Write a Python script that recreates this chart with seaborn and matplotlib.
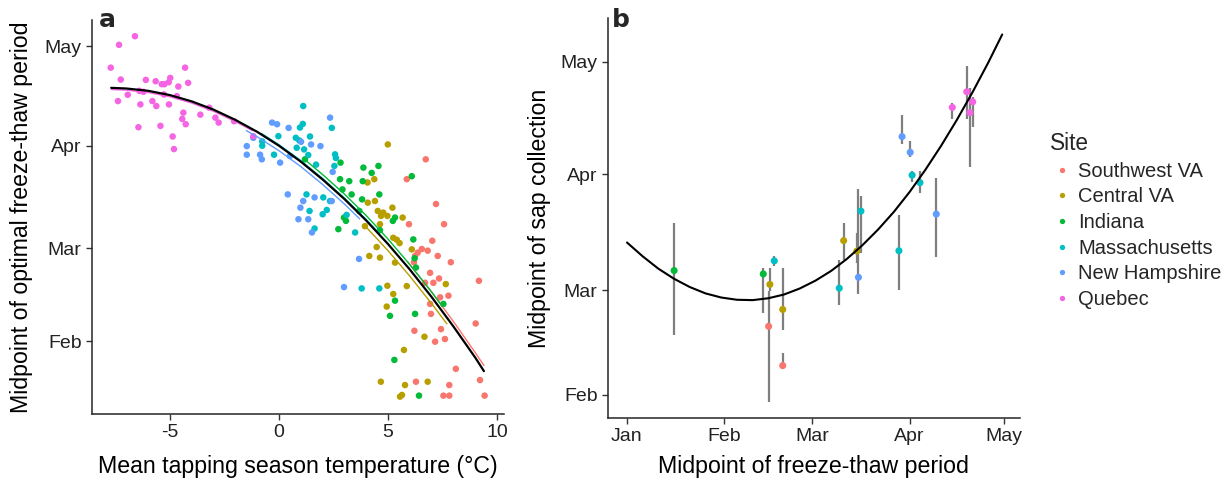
import matplotlib
matplotlib.use("Agg")
import matplotlib.pyplot as plt
import seaborn as sns
import pandas as pd

# ---------------- data ----------------
sites = ["Southwest VA", "Central VA", "Indiana", "Massachusetts", "New Hampshire", "Quebec"]
site_colors = ["#F8766D", "#B79F00", "#00BA38", "#00BFC4", "#619CFF", "#F564E3"]

# Panel a: mean tapping-season temperature (deg C) vs day of year of optimal freeze-thaw midpoint
temp_swva = [6.73, 5.86, 7.20, 7.57, 5.96, 7.03, 6.55, 6.82, 6.36, 7.28, 7.88, 6.93, 6.19, 7.34, 7.08, 6.70,
             9.17, 7.77, 7.39, 6.93, 6.97, 9.02, 6.21, 7.43, 7.61, 7.16, 8.11, 9.22, 6.28, 7.81, 7.54, 7.81,
             9.43, 6.24]
doy_swva = [86.9, 80.9, 73.4, 67.3, 67.3, 62.3, 59.8, 59.3, 58.7, 57.7, 55.8, 52.6, 55.8, 50.9, 49.6, 49.6,
            50.2, 45.7, 45.2, 43.2, 40.2, 37.3, 35.1, 35.6, 32.6, 31.8, 23.6, 20.2, 19.7, 18.7, 15.5, 15.5,
            15.5, 57.7]
temp_cva = [4.99, 4.37, 4.06, 4.40, 4.07, 4.53, 4.78, 4.97, 4.68, 5.20, 5.67, 4.63, 3.94, 5.24, 5.40, 5.53,
            4.48, 4.14, 4.63, 5.32, 5.86, 4.97, 5.24, 7.65, 4.94, 6.67, 5.73, 4.67, 5.78, 5.55, 5.64, 6.82, 6.09]
doy_cva = [91.4, 80.9, 79.9, 74.3, 73.8, 71.3, 70.8, 69.8, 69.8, 72.3, 69.3, 67.3, 66.7, 63.2, 62.6, 61.6,
           60.4, 57.7, 57.2, 55.7, 48.6, 48.7, 46.2, 49.2, 42.4, 33.3, 29.3, 19.7, 18.7, 15.2, 15.7, 19.7, 59.7]
temp_ind = [1.19, 2.82, 3.87, 4.56, 4.25, 2.80, 3.22, 3.84, 2.91, 3.33, 4.60, 3.81, 3.68, 2.98, 3.07, 2.72,
            4.63, 5.22, 5.32, 6.09, 6.16, 6.22, 6.28, 7.54, 5.32, 5.09, 6.24, 5.29, 6.42]
doy_ind = [86.9, 85.9, 84.4, 84.9, 82.8, 80.9, 80.3, 80.3, 77.8, 76.3, 76.3, 74.8, 71.3, 69.3, 68.3, 65.8,
           65.5, 68.3, 69.3, 81.8, 62.7, 57.0, 54.2, 43.2, 44.2, 39.6, 40.2, 26.3, 15.5]
temp_mass = [1.11, 2.42, 0.96, 1.09, -0.03, 0.77, 0.93, 1.42, -0.77, -0.77, -0.23, 0.81, 1.15, 1.34, 2.57,
             2.61, 1.70, 2.54, 1.26, 1.40, 2.00, 2.19, 2.34, 1.63, 3.49, 3.10, 3.79, 4.60, 2.03]
doy_mass = [103.0, 96.4, 96.5, 97.6, 93.9, 93.4, 92.6, 93.8, 92.3, 91.0, 88.3, 90.4, 89.9, 88.2, 88.4,
            87.3, 85.3, 84.9, 76.3, 71.3, 70.3, 71.6, 74.3, 66.0, 64.8, 70.1, 47.9, 47.9, 75.4]
temp_nh = [-1.48, -1.48, -0.87, -0.79, -1.18, -0.32, -0.09, 0.44, 2.34, 0.05, 1.01, 1.47, 1.90, 0.50, 0.40,
           1.11, 0.98, 0.89, 1.34, 1.63, 1.51, 2.46, 2.42, 3.67, 2.98]
doy_nh = [90.9, 88.3, 88.3, 86.9, 93.4, 98.0, 97.5, 96.4, 99.5, 85.9, 92.2, 91.4, 90.9, 87.9, 76.3,
          74.3, 72.3, 68.8, 68.8, 75.4, 64.8, 83.1, 74.3, 56.8, 48.3]
temp_que = [-7.72, -7.34, -6.61, -7.26, -7.39, -6.94, -6.41, -6.36, -6.11, -6.22, -6.45, -5.81, -5.63, -5.66,
            -5.38, -5.26, -5.06, -4.99, -5.05, -5.44, -5.28, -4.88, -4.82, -4.62, -4.31, -4.17, -4.69, -4.39,
            -4.44, -4.28, -3.61, -3.20, -2.92, -2.77, -2.06, -1.18]
doy_que = [114.6, 121.5, 124.1, 111.0, 104.5, 106.4, 107.6, 103.5, 110.9, 107.3, 96.6, 104.5, 103.0, 110.5,
           109.6, 109.6, 110.2, 111.5, 103.5, 97.0, 106.5, 93.8, 90.0, 108.9, 114.6, 110.0, 106.0, 101.0,
           99.1, 97.5, 100.4, 102.5, 99.5, 98.0, 98.4, 93.9]

# fitted curves (overall = black, one per site)
fit_all_t = [-7.7, -7, -6, -5, -4, -3, -2, -1, 0, 1, 2, 3, 4, 5, 6, 7, 8, 9, 9.4]
fit_all_doy = [108.5, 108.3, 107.6, 106.3, 104.4, 101.9, 98.8, 95.2, 91.0, 86.2, 80.8, 74.9, 68.4, 61.3,
               53.6, 45.3, 36.4, 27.0, 22.9]
fit_site_t = {
    "Quebec": [-7.7, -7, -6, -5, -4, -3, -2, -1.2],
    "New Hampshire": [-1.5, -1, 0, 1, 2, 3, 3.7],
    "Massachusetts": [-0.8, 0, 1, 2, 3, 4, 4.6],
    "Indiana": [1.2, 2, 3, 4, 5, 6, 7, 7.5],
    "Central VA": [3.9, 4, 5, 6, 7, 7.7],
    "Southwest VA": [5.9, 6, 7, 8, 9, 9.4],
}
fit_site_doy = {
    "Quebec": [108.0, 107.8, 107.1, 105.8, 103.9, 101.4, 98.3, 95.5],
    "New Hampshire": [95.6, 93.7, 89.5, 84.7, 79.3, 73.4, 68.9],
    "Massachusetts": [94.7, 91.3, 86.5, 81.1, 75.2, 68.7, 64.5],
    "Indiana": [86.7, 82.3, 76.4, 69.9, 62.8, 55.1, 46.8, 42.4],
    "Central VA": [67.0, 66.4, 59.3, 51.6, 43.3, 37.2],
    "Southwest VA": [55.9, 55.1, 46.8, 37.9, 28.5, 24.6],
}

# Panel b: days since 1 Jan
b_site = ["Indiana", "Indiana", "Massachusetts", "Central VA", "Southwest VA", "Central VA", "Southwest VA",
          "Massachusetts", "Central VA", "Central VA", "New Hampshire", "Massachusetts", "Massachusetts",
          "New Hampshire", "New Hampshire", "Massachusetts", "Massachusetts", "New Hampshire",
          "Quebec", "Quebec", "Quebec", "Quebec"]
b_ft = [15.0, 43.4, 46.9, 45.5, 45.1, 49.6, 49.6, 67.6, 69.0, 73.2, 73.7, 74.5, 86.6, 87.6, 90.2, 90.8,
        93.3, 98.5, 103.6, 108.2, 110.1, 109.2]
b_sap = [64.2, 63.3, 66.8, 60.5, 49.3, 53.8, 38.8, 59.5, 72.2, 69.4, 62.4, 80.1, 69.5, 100.0, 95.8, 89.7,
         87.7, 79.3, 107.8, 112.0, 109.3, 106.4]
b_lo = [47.0, 52.9, 65.5, 58.7, 29.1, 48.3, 38.6, 55.0, 67.0, 66.1, 57.9, 68.8, 59.0, 98.0, 94.6, 87.8,
        84.9, 67.9, 104.7, 104.7, 102.7, 92.0]
b_hi = [77.0, 65.0, 68.1, 65.0, 58.7, 65.0, 42.1, 67.0, 77.0, 74.2, 85.9, 84.0, 79.1, 105.8, 98.8, 90.9,
        90.9, 89.0, 108.9, 118.9, 110.7, 112.9]
b_curve_x = [0, 5, 10, 15, 20, 25, 30, 35, 40, 45, 50, 55, 60, 65, 70, 75, 80, 85, 90, 95, 100, 105, 110,
             115, 119.5]
b_curve_y = [71.7, 68.0, 64.7, 62.0, 59.8, 58.1, 57.0, 56.4, 56.3, 56.8, 57.8, 59.4, 61.5, 64.1, 67.3, 71.0,
             75.2, 79.9, 85.2, 91.1, 97.5, 104.4, 111.8, 119.7, 127.3]

# axis tick labels
a_xticks = [-5, 0, 5, 10]
a_yticks = [32, 60, 91, 121]
a_yticklabels = ["Feb", "Mar", "Apr", "May"]
b_xticks = [0, 31, 59, 90, 120]
b_xticklabels = ["Jan", "Feb", "Mar", "Apr", "May"]
b_yticks = [31, 59, 90, 120]
b_yticklabels = ["Feb", "Mar", "Apr", "May"]

# ---------------- build frames ----------------
temps = [temp_swva, temp_cva, temp_ind, temp_mass, temp_nh, temp_que]
doys = [doy_swva, doy_cva, doy_ind, doy_mass, doy_nh, doy_que]
df_a = pd.concat([pd.DataFrame({"temp": t, "doy": d, "Site": s}) for t, d, s in zip(temps, doys, sites)],
                 ignore_index=True)
df_fit = pd.concat([pd.DataFrame({"temp": fit_site_t[s], "doy": fit_site_doy[s], "Site": s}) for s in sites],
                   ignore_index=True)
df_all = pd.DataFrame({"temp": fit_all_t, "doy": fit_all_doy})
df_b = pd.DataFrame({"ft": b_ft, "sap": b_sap, "lo": b_lo, "hi": b_hi, "Site": b_site})
df_bc = pd.DataFrame({"x": b_curve_x, "y": b_curve_y})
pal = dict(zip(sites, site_colors))

# ---------------- style ----------------
sns.set_style("ticks")
plt.rcParams["font.family"] = ["Liberation Sans", "DejaVu Sans"]
plt.rcParams["axes.linewidth"] = 1.1
plt.rcParams["xtick.major.width"] = 1.0
plt.rcParams["ytick.major.width"] = 1.0
plt.rcParams["xtick.major.size"] = 4
plt.rcParams["ytick.major.size"] = 4
plt.rcParams["xtick.color"] = "#333333"
plt.rcParams["ytick.color"] = "#333333"

TICK_FS = 14
LABEL_FS = 16.7

fig = plt.figure(figsize=(12.28, 4.79), dpi=100)
W, H = 1228, 479
ax_a = fig.add_axes([92 / W, 1 - 414 / H, (504 - 92) / W, (414 - 20) / H])
ax_b = fig.add_axes([608 / W, 1 - 418 / H, (1019.5 - 608) / W, (418 - 18) / H])

# ---------------- panel a ----------------
sns.scatterplot(data=df_a, x="temp", y="doy", hue="Site", hue_order=sites, palette=pal,
                s=22, linewidth=0, ax=ax_a, legend=False, zorder=2)
sns.lineplot(data=df_fit, x="temp", y="doy", hue="Site", hue_order=sites, palette=pal,
             lw=1.0, ax=ax_a, legend=False, sort=True, estimator=None, zorder=3)
sns.lineplot(data=df_all, x="temp", y="doy", color="black", lw=1.6, ax=ax_a,
             estimator=None, zorder=4)
ax_a.set_xlim(-8.58, 10.32)
ax_a.set_ylim(9.95, 129)
ax_a.set_xticks(a_xticks)
ax_a.set_xticklabels([str(v) for v in a_xticks])
ax_a.set_yticks(a_yticks)
ax_a.set_yticklabels(a_yticklabels)
ax_a.set_xlabel("Mean tapping season temperature (°C)", fontsize=LABEL_FS, color="black")
ax_a.set_ylabel("Midpoint of optimal freeze-thaw period", fontsize=LABEL_FS, color="black")
ax_a.xaxis.set_label_coords(0.5, -0.104)
ax_a.yaxis.set_label_coords(-0.143, 0.5)
ax_a.tick_params(labelsize=TICK_FS, labelcolor="#222222")
sns.despine(ax=ax_a)
fig.text(99 / W, 1 - 20 / H, "a", fontsize=18, fontweight="bold", va="center", ha="left",
         family=["DejaVu Sans"])

# ---------------- panel b ----------------
ax_b.vlines(df_b["ft"], df_b["lo"], df_b["hi"], color="#7f7f7f", lw=1.6, zorder=2)
sns.scatterplot(data=df_b, x="ft", y="sap", hue="Site", hue_order=sites, palette=pal,
                s=26, linewidth=0, ax=ax_b, zorder=3)
sns.lineplot(data=df_bc, x="x", y="y", color="black", lw=1.5, ax=ax_b, estimator=None, zorder=4)
ax_b.set_xlim(-6.05, 125)
ax_b.set_ylim(24.8, 131.7)
ax_b.set_xticks(b_xticks)
ax_b.set_xticklabels(b_xticklabels)
ax_b.set_yticks(b_yticks)
ax_b.set_yticklabels(b_yticklabels)
ax_b.set_xlabel("Midpoint of freeze-thaw period", fontsize=LABEL_FS, color="black")
ax_b.set_ylabel("Midpoint of sap collection", fontsize=LABEL_FS, color="black")
ax_b.xaxis.set_label_coords(0.5, -0.0925)
ax_b.yaxis.set_label_coords(-0.139, 0.5)
ax_b.tick_params(labelsize=TICK_FS, labelcolor="#222222")
sns.despine(ax=ax_b)
fig.text(612 / W, 1 - 20 / H, "b", fontsize=18, fontweight="bold", va="center", ha="left",
         family=["DejaVu Sans"])

leg = ax_b.legend(title="Site", loc="upper left", bbox_to_anchor=(1050 / W, 1 - 132 / H),
                  bbox_transform=fig.transFigure, frameon=False, fontsize=14.5, title_fontsize=16.3,
                  markerscale=0.75, handlelength=1.2, handletextpad=0.2, labelspacing=0.33,
                  borderpad=0, borderaxespad=0)
leg._legend_box.align = "left"

fig.savefig("out.png", dpi=100)
